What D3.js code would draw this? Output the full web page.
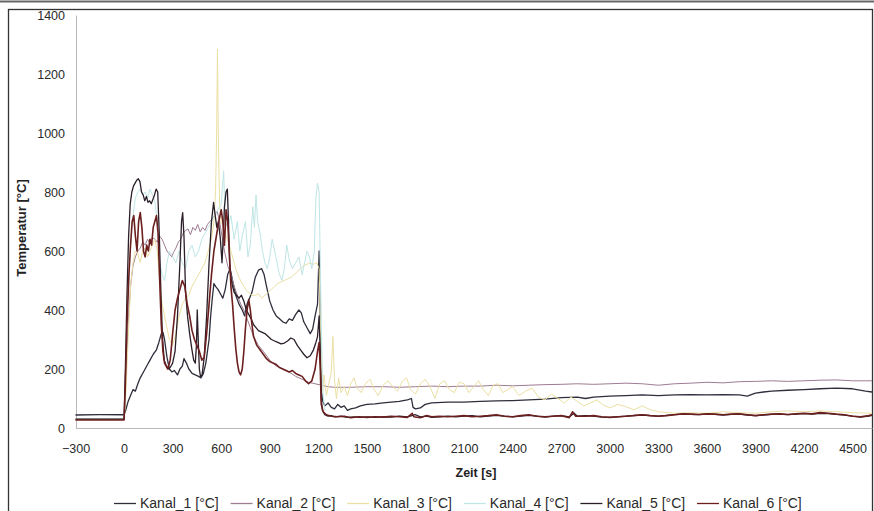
<!DOCTYPE html>
<html>
<head>
<meta charset="utf-8">
<script src="https://cdn.jsdelivr.net/npm/d3@7"></script>
<style>
  html, body { margin: 0; padding: 0; background: #fff; }
  svg { display: block; font-family: "Liberation Sans", Arial, sans-serif; }
</style>
</head>
<body>
<svg id="chart" width="874" height="511"></svg>
<script>
// Temperature channels of the fire test, [time in s, temperature in °C]
const kanal1 = [[-300,44],[-150,45],[0,45],[10,60],[25,90],[40,110],[55,130],[70,125],[85,150],[100,170],[120,190],[140,210],[160,230],[180,250],[200,265],[215,290],[230,320],[240,325],[250,300],[265,240],[280,200],[295,190],[310,195],[330,180],[345,200],[360,210],[370,235],[385,220],[400,200],[420,185],[440,180],[460,175],[475,170],[490,185],[505,220],[515,260],[525,300],[535,380],[545,440],[555,490],[565,480],[580,470],[595,455],[610,440],[625,470],[640,520],[655,540],[670,500],[690,450],[710,420],[730,400],[745,380],[760,420],[775,440],[790,460],[810,510],[830,535],[850,540],[865,520],[880,480],[900,430],[920,400],[940,380],[960,370],[980,360],[1000,355],[1020,370],[1040,365],[1060,385],[1080,400],[1095,390],[1110,360],[1130,340],[1150,320],[1165,335],[1180,380],[1195,420],[1205,600],[1212,350],[1218,150],[1225,95],[1240,75],[1260,85],[1280,70],[1300,65],[1320,80],[1340,70],[1360,75],[1380,60],[1400,65],[1430,68],[1460,75],[1500,80],[1550,82],[1600,85],[1650,88],[1700,90],[1750,95],[1775,100],[1785,70],[1800,65],[1830,68],[1860,80],[1900,85],[2000,88],[2100,88],[2200,90],[2300,92],[2400,93],[2500,95],[2600,98],[2700,103],[2800,105],[2850,100],[2900,105],[3000,108],[3100,110],[3200,112],[3300,110],[3400,112],[3500,113],[3600,112],[3700,113],[3800,112],[3850,108],[3900,118],[3950,122],[4000,125],[4100,128],[4200,130],[4300,133],[4400,135],[4500,133],[4580,125],[4620,122]];

const kanal2 = [[-300,30],[0,30],[10,150],[25,350],[40,480],[55,550],[70,580],[85,600],[100,610],[115,630],[130,620],[145,640],[160,625],[175,645],[190,640],[205,630],[220,650],[235,640],[250,620],[265,600],[280,590],[295,580],[305,595],[320,610],[335,630],[350,640],[365,660],[380,670],[395,675],[410,655],[425,680],[440,670],[455,690],[470,665],[485,680],[500,670],[515,690],[530,700],[545,710],[560,720],[575,735],[590,700],[605,650],[620,600],[640,550],[660,520],[680,480],[700,450],[720,420],[740,400],[760,370],[780,340],[800,310],[830,280],[860,260],[900,230],[940,210],[980,200],[1020,190],[1060,175],[1100,165],[1140,155],[1180,150],[1220,145],[1260,140],[1300,138],[1400,138],[1500,140],[1600,140],[1700,138],[1800,140],[1900,142],[2000,140],[2100,142],[2200,142],[2300,145],[2400,143],[2500,145],[2600,147],[2700,148],[2800,150],[2900,148],[3000,150],[3100,152],[3200,150],[3300,145],[3400,150],[3500,152],[3600,155],[3700,153],[3800,157],[3900,158],[4000,160],[4100,158],[4200,160],[4300,162],[4400,163],[4500,160],[4620,160]];

const kanal3 = [[-300,28],[0,28],[10,100],[25,300],[40,480],[55,560],[70,600],[85,590],[100,560],[115,600],[130,610],[145,580],[160,600],[175,620],[190,640],[205,600],[220,500],[235,420],[250,380],[265,340],[280,300],[300,280],[320,320],[340,380],[360,420],[380,440],[400,450],[420,480],[440,500],[460,520],[480,540],[500,560],[520,600],[540,640],[555,700],[565,800],[572,1000],[577,1285],[582,1000],[590,760],[600,700],[615,680],[630,650],[650,620],[670,580],[690,540],[710,510],[730,490],[750,470],[770,460],[790,450],[810,450],[830,455],[850,440],[870,450],[890,460],[910,470],[930,480],[950,490],[970,495],[990,500],[1010,505],[1030,510],[1050,520],[1070,530],[1090,540],[1110,550],[1130,555],[1150,560],[1170,555],[1190,560],[1205,540],[1215,300],[1225,120],[1235,180],[1250,110],[1265,150],[1280,190],[1290,310],[1300,160],[1312,100],[1325,170],[1340,120],[1360,140],[1380,110],[1400,150],[1420,170],[1440,135],[1465,120],[1490,150],[1520,165],[1545,130],[1570,110],[1600,145],[1630,160],[1660,140],[1690,125],[1720,160],[1745,170],[1770,130],[1800,115],[1830,150],[1860,165],[1890,140],[1920,100],[1950,150],[1980,160],[2010,130],[2040,120],[2070,155],[2100,150],[2130,120],[2160,140],[2190,160],[2220,130],[2250,110],[2280,145],[2310,150],[2340,120],[2370,130],[2400,140],[2440,110],[2480,125],[2520,135],[2560,105],[2600,95],[2640,115],[2680,100],[2720,85],[2760,105],[2800,90],[2840,75],[2880,85],[2920,95],[2960,78],[3000,68],[3050,80],[3100,72],[3150,62],[3200,75],[3250,62],[3300,55],[3400,50],[3500,52],[3600,50],[3700,55],[3800,52],[3900,50],[4000,55],[4100,58],[4200,55],[4300,58],[4400,55],[4500,52],[4620,50]];

const kanal4 = [[-300,30],[0,30],[10,200],[25,450],[40,620],[55,720],[70,780],[85,800],[100,810],[115,790],[130,800],[145,780],[160,810],[175,790],[190,770],[205,700],[220,560],[235,520],[250,500],[265,560],[280,600],[300,580],[320,560],[340,600],[360,560],[380,540],[400,600],[420,620],[440,580],[460,600],[480,640],[500,660],[520,680],[540,700],[560,720],[580,740],[600,760],[615,870],[625,700],[640,680],[660,720],[680,640],[700,700],[715,600],[730,650],[750,700],[765,580],[780,620],[795,750],[805,680],[815,790],[825,700],[840,660],[855,600],[870,560],[885,540],[900,580],[915,640],[930,600],[945,560],[960,520],[975,500],[990,540],[1005,620],[1020,570],[1040,540],[1060,560],[1080,580],[1100,520],[1115,560],[1130,600],[1145,580],[1160,540],[1175,600],[1185,780],[1195,830],[1205,800],[1212,560],[1220,300],[1228,120],[1240,60]];

const kanal5 = [[-300,30],[0,30],[8,200],[18,450],[28,650],[38,760],[48,800],[58,820],[68,830],[78,840],[88,845],[98,835],[108,800],[118,790],[128,770],[138,785],[148,765],[158,770],[168,760],[178,775],[188,790],[198,810],[208,800],[218,650],[228,450],[238,300],[248,230],[258,215],[268,205],[278,200],[290,210],[300,220],[315,260],[330,380],[345,560],[355,700],[362,730],[370,650],[380,460],[392,380],[405,320],[418,270],[430,230],[440,220],[447,280],[452,400],[458,300],[465,200],[472,175],[482,180],[495,240],[510,380],[525,560],[540,700],[553,765],[563,720],[573,680],[583,700],[595,640],[605,560],[612,640],[620,750],[630,800],[638,810],[645,700],[652,560],[660,510],[670,480],[680,460],[695,450],[710,440],[725,450],[740,430],[755,400],[770,385],[785,370],[800,350],[815,340],[830,330],[850,325],[870,320],[890,310],[910,300],[930,295],[950,290],[970,285],[990,288],[1010,295],[1030,305],[1050,300],[1070,280],[1090,265],[1110,250],[1130,238],[1150,245],[1170,265],[1185,290],[1195,310],[1205,380],[1212,250],[1218,100],[1225,60],[1240,45],[1260,40],[1280,42],[1300,38],[1340,40],[1380,36],[1420,38],[1460,36],[1500,38],[1550,36],[1600,38],[1650,37],[1700,40],[1750,38],[1800,45],[1830,38],[1870,40],[1900,36],[1950,38],[2000,40],[2050,38],[2100,40],[2150,42],[2200,38],[2250,40],[2300,43],[2350,40],[2400,38],[2450,40],[2500,43],[2550,40],[2600,37],[2650,40],[2700,42],[2750,38],[2780,50],[2800,40],[2850,42],[2900,40],[2950,37],[3000,36],[3050,38],[3100,40],[3150,43],[3200,44],[3250,42],[3300,40],[3350,43],[3400,45],[3450,47],[3500,46],[3550,45],[3600,47],[3650,46],[3700,44],[3750,46],[3800,47],[3850,44],[3900,42],[3950,44],[4000,46],[4050,47],[4100,45],[4150,47],[4200,49],[4250,47],[4300,50],[4350,49],[4400,46],[4450,44],[4500,40],[4550,37],[4600,40],[4620,43]];

const kanal6 = [[-300,27],[0,27],[8,150],[18,350],[30,520],[40,620],[50,700],[60,720],[70,650],[80,600],[90,700],[100,730],[110,680],[120,600],[130,580],[140,620],[150,600],[160,640],[170,620],[180,680],[190,700],[200,720],[210,660],[220,500],[230,350],[240,260],[250,220],[260,210],[270,200],[285,230],[300,320],[315,400],[330,440],[345,470],[360,500],[375,480],[390,420],[405,380],[420,330],[435,300],[450,280],[465,260],[480,230],[495,240],[510,320],[525,420],[540,520],[555,600],[570,650],[585,700],[600,740],[610,700],[620,620],[630,740],[640,700],[650,600],[660,480],[670,420],[680,340],[690,270],[700,220],[710,190],[720,180],[730,200],[740,260],[750,340],[760,400],[770,435],[780,400],[790,350],[800,310],[820,280],[840,265],[860,250],[880,235],[900,225],[920,220],[940,215],[960,205],[980,200],[1000,195],[1020,190],[1040,195],[1060,185],[1080,180],[1100,175],[1120,160],[1140,150],[1160,160],[1180,200],[1195,260],[1205,290],[1212,200],[1218,80],[1230,55],[1250,45],[1280,40],[1320,38],[1360,40],[1400,35],[1450,38],[1500,36],[1550,38],[1600,37],[1650,40],[1700,38],[1750,36],[1780,50],[1790,38],[1830,35],[1870,42],[1900,38],[1950,40],[2000,38],[2050,40],[2100,42],[2150,38],[2200,40],[2250,42],[2300,45],[2350,40],[2400,38],[2450,42],[2500,45],[2550,40],[2600,38],[2650,40],[2700,42],[2750,35],[2770,55],[2790,40],[2850,40],[2900,42],[2950,38],[3000,36],[3050,38],[3100,40],[3150,42],[3200,45],[3250,42],[3300,40],[3350,42],[3400,45],[3450,48],[3500,47],[3550,46],[3600,48],[3650,47],[3700,45],[3750,47],[3800,48],[3850,45],[3900,42],[3950,45],[4000,47],[4050,48],[4100,46],[4150,48],[4200,50],[4250,48],[4300,52],[4350,50],[4400,47],[4450,45],[4500,40],[4550,38],[4600,42],[4620,45]];

const seriesNames = ["Kanal_1 [°C]", "Kanal_2 [°C]", "Kanal_3 [°C]", "Kanal_4 [°C]", "Kanal_5 [°C]", "Kanal_6 [°C]"];
const seriesColors = ["#2e2e3c", "#9e7c92", "#ebe0a4", "#bfe5e5", "#2a1e28", "#6c1f1f"];
const seriesWidths = [1.3, 1, 1, 1, 1.3, 1.6];
const xTicks = [-300, 0, 300, 600, 900, 1200, 1500, 1800, 2100, 2400, 2700, 3000, 3300, 3600, 3900, 4200, 4500];
const yTicks = [0, 200, 400, 600, 800, 1000, 1200, 1400];

const seriesData = [kanal1, kanal2, kanal3, kanal4, kanal5, kanal6];

const svg = d3.select("#chart");

// chart frame
svg.append("line").attr("x1", 0).attr("x2", 874).attr("y1", 1.5).attr("y2", 1.5)
  .attr("stroke", "#666").attr("stroke-width", 2);
svg.append("rect").attr("x", 8.5).attr("y", 9.5).attr("width", 864).attr("height", 520)
  .attr("fill", "none").attr("stroke", "#333").attr("stroke-width", 1.3);

const x = d3.scaleLinear().domain([-300, 4620]).range([75.5, 872]);
const y = d3.scaleLinear().domain([0, 1400]).range([428, 15]);
const fmt = d3.format("d");

// axes
const yAxis = svg.append("g").attr("transform", "translate(76,0)")
  .call(d3.axisLeft(y).tickValues(yTicks).tickFormat(fmt).tickSize(0).tickPadding(11));
const xAxis = svg.append("g").attr("transform", "translate(0,428)")
  .call(d3.axisBottom(x).tickValues(xTicks).tickFormat(fmt).tickSize(0).tickPadding(16));
[xAxis, yAxis].forEach(g => {
  g.select(".domain").attr("stroke", "#b8b8b8").attr("stroke-width", 1);
  g.selectAll("text").attr("font-size", "12.5px").attr("fill", "#2a2a2a")
    .attr("font-family", "'Liberation Sans', Arial, sans-serif");
});

// axis titles
svg.append("text").attr("transform", "translate(26,228) rotate(-90)")
  .attr("text-anchor", "middle").attr("font-weight", "bold").attr("font-size", "13px")
  .attr("fill", "#222").text("Temperatur [°C]");
svg.append("text").attr("x", 476).attr("y", 477)
  .attr("text-anchor", "middle").attr("font-weight", "bold").attr("font-size", "12.5px")
  .attr("fill", "#222").text("Zeit [s]");

// data lines
const line = d3.line().x(d => x(d[0])).y(d => y(d[1]));
const plot = svg.append("g");
seriesData.forEach((data, i) => {
  plot.append("path").datum(data).attr("d", line)
    .attr("fill", "none").attr("stroke", seriesColors[i])
    .attr("stroke-width", seriesWidths[i]).attr("stroke-linejoin", "round");
});

// legend
const legendStart = 140, legendStep = 116.6, legendY = 508;
const legend = svg.append("g");
seriesNames.forEach((name, i) => {
  const tx = legendStart + i * legendStep;
  legend.append("line").attr("x1", tx - 26).attr("x2", tx - 4)
    .attr("y1", legendY - 4.5).attr("y2", legendY - 4.5)
    .attr("stroke", seriesColors[i]).attr("stroke-width", 1.3);
  legend.append("text").attr("x", tx).attr("y", legendY)
    .attr("font-size", "14px").attr("fill", "#2a2a2a").text(name);
});
</script>
</body>
</html>
